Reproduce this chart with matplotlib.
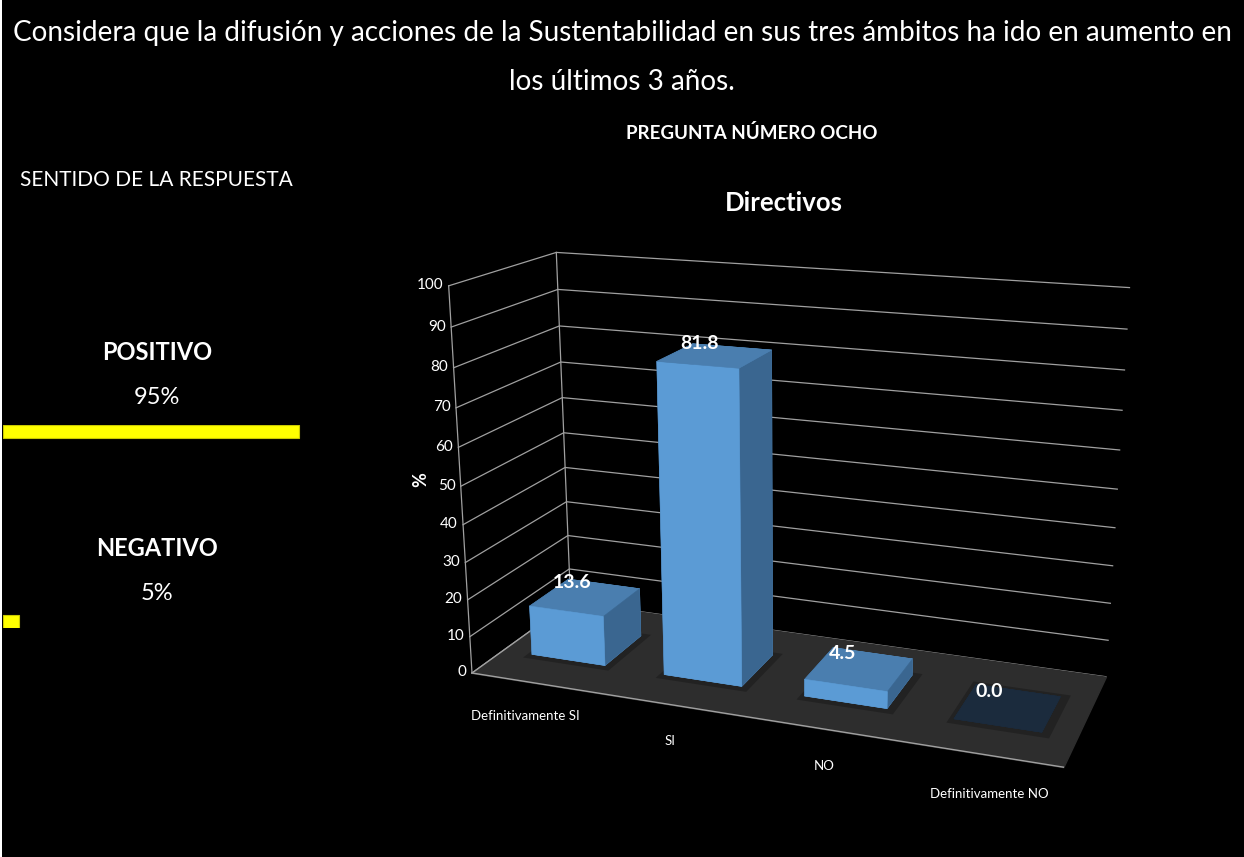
import matplotlib
matplotlib.use("Agg")
import matplotlib.pyplot as plt
import numpy as np
from mpl_toolkits.mplot3d import proj3d
from mpl_toolkits.mplot3d.art3d import Poly3DCollection

# ── Data ─────────────────────────────────────────────────────────────────────
TITLE_1 = ("Considera que la difusión y acciones de la Sustentabilidad en sus "
           "tres ámbitos ha ido en aumento en")
TITLE_2 = "los últimos 3 años."
QUESTION = "PREGUNTA NÚMERO OCHO"
GROUP = "Directivos"

categories = ["Definitivamente SI", "SI", "NO", "Definitivamente NO"]
percent = [13.6, 81.8, 4.5, 0.0]
z_ticks = list(range(0, 101, 10))

sense_title = "SENTIDO DE LA RESPUESTA"
sense_labels = ["POSITIVO", "NEGATIVO"]
sense_values = [95, 5]

# ── Style ────────────────────────────────────────────────────────────────────
W, H = 1244, 857
SANS = ["Lato", "DejaVu Sans"]
FRONT = "#5b9bd5"
TOP = "#4a7eaf"
SIDE = "#3a6690"
ZERO_TOP = "#1b2b3d"
FLOOR = "#2d2d2d"
SHADOW = "#222222"
GRID = "#a0a0a0"
YELLOW = "#ffff00"

BAR_W, BAR_D = 0.56, 0.40

plt.rcParams["font.family"] = SANS


def px(x, y):
    """pixel position (from top-left) -> figure fraction"""
    return x / W, 1 - y / H


fig = plt.figure(figsize=(W / 100, H / 100), dpi=100, facecolor="black")

# ── 3D column chart ──────────────────────────────────────────────────────────
n = len(categories)
ax = fig.add_axes([0.35, 0.1, 0.55, 0.55 * W / H], projection="3d", facecolor="black")
ax.set_proj_type("persp", focal_length=0.41)
ax.view_init(elev=17, azim=-69.6)
ax.set_box_aspect((2.9, 1.03, 1.9))
ax.set_axis_off()
ax.computed_zorder = False
ax.set_xlim(0, n)
ax.set_ylim(0, 1)
ax.set_zlim(0, 100)

# walls: gridlines on the left and back walls
for z in z_ticks:
    ax.plot([0, 0, n], [0, 1, 1], [z, z, z], color=GRID, lw=0.9, zorder=1)
ax.plot([0, 0], [0, 0], [0, 100], color=GRID, lw=0.9, zorder=1)
ax.plot([0, 0], [1, 1], [0, 100], color=GRID, lw=0.9, zorder=1)

# floor
floor = Poly3DCollection([[(0, 0, 0), (n, 0, 0), (n, 1, 0), (0, 1, 0)]],
                         facecolor=FLOOR, edgecolor=FLOOR, zorder=2)
ax.add_collection3d(floor)
ax.plot([0, n], [0, 0], [0, 0], color=GRID, lw=1.0, zorder=3)
ax.plot([0, 0], [0, 1], [0, 0], color=GRID, lw=1.0, zorder=3)

x0 = np.arange(n) + (1 - BAR_W) / 2
y0 = (1 - BAR_D) / 2

# soft shadow under each bar
shadows = [[(x - 0.03, y0 - 0.05, 0), (x + BAR_W + 0.06, y0 - 0.05, 0),
            (x + BAR_W + 0.06, y0 + BAR_D + 0.03, 0), (x - 0.03, y0 + BAR_D + 0.03, 0)]
           for x in x0]
ax.add_collection3d(Poly3DCollection(shadows, facecolor=SHADOW, edgecolor="none",
                                     zorder=3))

# bars (face order: -z, +z, -y, +y, -x, +x)
face_colors = []
for v in percent:
    if v > 0:
        face_colors += [FRONT, TOP, FRONT, FRONT, SIDE, SIDE]
    else:
        face_colors += [ZERO_TOP] * 6
ax.bar3d(x0, np.full(n, y0), np.zeros(n), BAR_W, BAR_D, percent,
         color=face_colors, edgecolor=face_colors, linewidth=0.4,
         shade=False, zorder=4)

# value labels on top of each bar
for i, v in enumerate(percent):
    ax.text(i + 0.36, 0.55, v, f"{v:.1f}", ha="center", va="bottom",
            fontsize=14, fontweight="bold", color="white", zorder=10)

# z tick labels
for z in z_ticks:
    ax.text(-0.04, 0, z, str(z), ha="right", va="center", fontsize=11,
            color="white", zorder=10)

# category labels
for i, c in enumerate(categories):
    ax.text(i + 0.67, -0.34, 0, c, ha="center", va="center", fontsize=9.5,
            color="white", zorder=10)

# fit the projected box onto the reference frame
fig.canvas.draw()
M = ax.get_proj()


def to_px(x, y, z):
    tx, ty, _ = proj3d.proj_transform(x, y, z, M)
    return ax.transData.transform((tx, ty))


p1, p2 = to_px(0, 0, 0), to_px(n, 1, 100)
t1 = np.array([472, H - 673])
t2 = np.array([1125, H - 280])
k = np.linalg.norm(t2 - t1) / np.linalg.norm(p2 - p1)
bb = ax.get_position()
c = np.array([(bb.x0 + bb.width / 2) * W, (bb.y0 + bb.height / 2) * H])
c_new = t1 - k * (p1 - c)
side = bb.width * W * k
ax.set_position([(c_new[0] - side / 2) / W, (c_new[1] - side / 2) / H,
                 side / W, side / H])

fig.text(*px(421, 480), "%", rotation=90, ha="center", va="center",
         fontsize=13, fontweight="bold", color="white")

# ── Titles ───────────────────────────────────────────────────────────────────
title1 = fig.text(*px(622, 33), TITLE_1, ha="center", va="center",
                  fontsize=19, color="white")
fig.canvas.draw()
fs = 19 * 1220 / title1.get_window_extent().width
title1.set_fontsize(fs)
fig.text(*px(622, 82), TITLE_2, ha="center", va="center", fontsize=fs, color="white")
fig.text(*px(752, 133), QUESTION, ha="center", va="center", fontsize=13.5,
         fontweight="bold", color="white")
fig.text(*px(784, 203), GROUP, ha="center", va="center", fontsize=18.5,
         fontweight="bold", color="white")

# ── Left panel: sense of the answer ──────────────────────────────────────────
fig.text(*px(156, 180), sense_title, ha="center", va="center", fontsize=15,
         color="white")
label_y = [352, 548]
value_y = [397, 594]
for lab, val, ly, vy in zip(sense_labels, sense_values, label_y, value_y):
    fig.text(*px(157, ly), lab, ha="center", va="center", fontsize=17,
             fontweight="bold", color="white")
    fig.text(*px(157, vy), f"{val}%", ha="center", va="center", fontsize=17,
             color="white")

ax_s = fig.add_axes([3 / W, (H - 628) / H, 312 / W, 203 / H])
h = 13 / 190
ax_s.barh([1, 0], sense_values, height=h, color=YELLOW, edgecolor="#c8c800",
          linewidth=0.8, align="center")
ax_s.set_xlim(0, 100)
ax_s.set_ylim(-h / 2, 1 + h / 2)
ax_s.set_axis_off()

# thin white strip on the left border of the slide
fig.patches.append(plt.Rectangle((0, 0), 2 / W, 1, transform=fig.transFigure,
                                 facecolor="white", edgecolor="none"))

fig.savefig("out.png", dpi=100, facecolor=fig.get_facecolor())
